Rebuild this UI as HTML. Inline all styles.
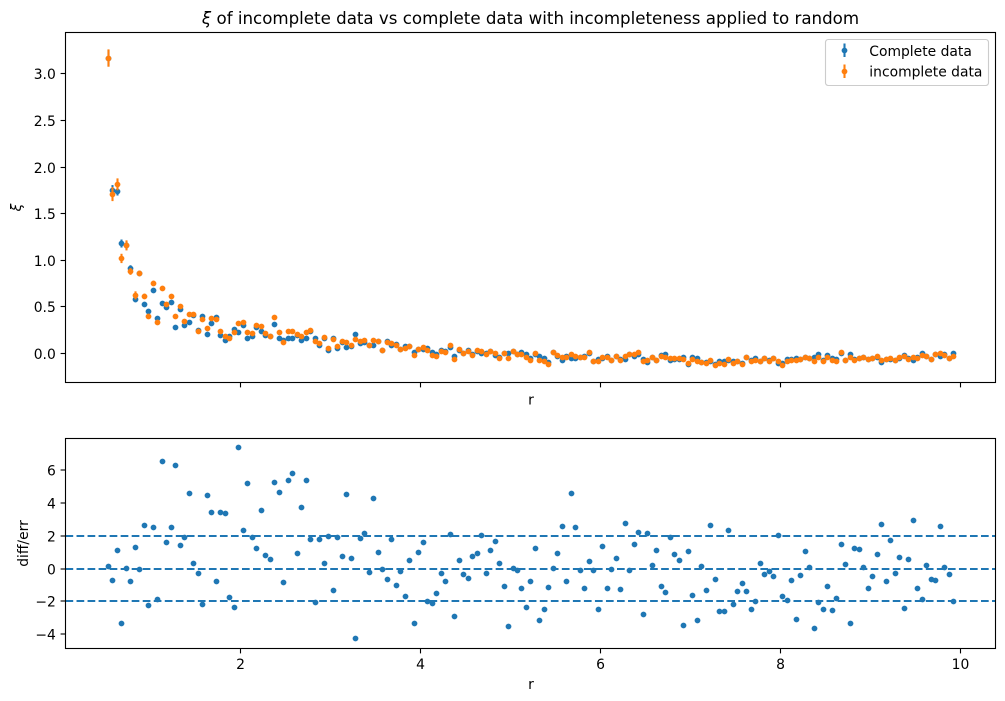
<!DOCTYPE html>
<html>
<head>
<meta charset="utf-8">
<title>Correlation comparison chart</title>
<style>
html,body{margin:0;padding:0;background:#fff;}
svg{display:block;}
text{font-family:"DejaVu Sans","Liberation Sans",sans-serif;fill:#000;}
</style>
</head>
<body>
<svg id="chart" xmlns="http://www.w3.org/2000/svg" width="1005" height="701" viewBox="0 0 1005 701">
  <rect x="0" y="0" width="1005" height="701" fill="#fff"/>
  <text x="530.5" y="24" font-size="16.67" text-anchor="middle"><tspan font-style="italic">ξ</tspan> of incomplete data vs complete data with incompleteness applied to random</text>
  <g id="top-marks"></g>
  <g id="bottom-marks"></g>
  <g id="axes-ticks"></g>
  <rect x="65.5" y="32.5" width="930" height="350" fill="none" stroke="#000" stroke-width="1.11"/>
  <rect x="65.5" y="438.5" width="930" height="210" fill="none" stroke="#000" stroke-width="1.11"/>
  <text x="531" y="404.5" font-size="13.89" text-anchor="middle">r</text>
  <text x="531" y="689" font-size="13.89" text-anchor="middle">r</text>
  <text transform="translate(21,207.5) rotate(-90)" font-size="13.89" font-style="italic" text-anchor="middle">ξ</text>
  <text transform="translate(28,543.5) rotate(-90)" font-size="13.89" text-anchor="middle">diff/err</text>
  <g>
    <rect x="825.5" y="39.5" width="163" height="46" rx="2.8" ry="2.8" fill="#fff" fill-opacity="0.8" stroke="#ccc" stroke-width="1.11"/>
    <g>
      <line x1="844.5" x2="844.5" y1="43.5" y2="57" stroke="#1f77b4" stroke-width="2.08"/>
      <circle cx="844.5" cy="50.5" r="2.9" fill="#1f77b4"/>
      <text x="869.3" y="56" font-size="13.89">Complete data</text>
    </g>
    <g>
      <line x1="844.5" x2="844.5" y1="64.5" y2="78" stroke="#ff7f0e" stroke-width="2.08"/>
      <circle cx="844.5" cy="71.5" r="2.9" fill="#ff7f0e"/>
      <text x="869.3" y="76.7" font-size="13.89">incomplete data</text>
    </g>
  </g>
</svg>
<script>
const rValues = [
0.525,0.575,0.625,0.675,0.725,0.775,0.825,0.875,0.925,0.975,
1.025,1.075,1.125,1.175,1.225,1.275,1.325,1.375,1.425,1.475,
1.525,1.575,1.625,1.675,1.725,1.775,1.825,1.875,1.925,1.975,
2.025,2.075,2.125,2.175,2.225,2.275,2.325,2.375,2.425,2.475,
2.525,2.575,2.625,2.675,2.725,2.775,2.825,2.875,2.925,2.975,
3.025,3.075,3.125,3.175,3.225,3.275,3.325,3.375,3.425,3.475,
3.525,3.575,3.625,3.675,3.725,3.775,3.825,3.875,3.925,3.975,
4.025,4.075,4.125,4.175,4.225,4.275,4.325,4.375,4.425,4.475,
4.525,4.575,4.625,4.675,4.725,4.775,4.825,4.875,4.925,4.975,
5.025,5.075,5.125,5.175,5.225,5.275,5.325,5.375,5.425,5.475,
5.525,5.575,5.625,5.675,5.725,5.775,5.825,5.875,5.925,5.975,
6.025,6.075,6.125,6.175,6.225,6.275,6.325,6.375,6.425,6.475,
6.525,6.575,6.625,6.675,6.725,6.775,6.825,6.875,6.925,6.975,
7.025,7.075,7.125,7.175,7.225,7.275,7.325,7.375,7.425,7.475,
7.525,7.575,7.625,7.675,7.725,7.775,7.825,7.875,7.925,7.975,
8.025,8.075,8.125,8.175,8.225,8.275,8.325,8.375,8.425,8.475,
8.525,8.575,8.625,8.675,8.725,8.775,8.825,8.875,8.925,8.975,
9.025,9.075,9.125,9.175,9.225,9.275,9.325,9.375,9.425,9.475,
9.525,9.575,9.625,9.675,9.725,9.775,9.825,9.875,9.925];

const completeXi = [
3.17,1.75,1.74,1.18,1.16,.917,.58,.86,.527,.452,.678,.377,.538,.495,.549,.281,.474,.302,.334,.41,.25,.399,.206,.324,.388,.195,.141,.184,.259,.227,.302,.163,.184,.281,.238,.195,.184,.313,.163,.14,.163,.163,.195,.141,
.163,.234,.163,.087,.165,.034,.156,.052,.12,.066,.08,.206,.109,.12,.09,.088,.125,.034,.125,.088,.098,.046,.077,.07,.012,.04,.045,.055,.01,-.01,.03,.02,.066,-.03,.03,.005,.034,-.016,.025,.002,-.005,.018,-.02,-.045,.003,.002,.022,-.008,
.012,-.009,-.055,-.015,-.034,-.052,-.10,.012,-.03,-.073,-.03,-.055,-.059,-.04,-.03,.005,-.087,-.063,-.05,-.035,-.073,-.035,-.06,-.063,-.016,-.03,-.015,-.063,-.095,-.045,-.08,-.02,-.016,-.073,-.065,-.063,-.045,-.123,-.038,-.052,-.093,-.10,-.091,-.115,-.084,-.09,-.07,-.084,-.084,-.11,-.045,
-.07,-.055,-.09,-.05,-.08,-.05,-.102,-.105,-.063,-.066,-.052,-.06,-.045,-.055,-.041,-.016,-.07,-.023,-.055,-.063,-.005,-.07,-.009,-.063,-.059,-.045,-.06,-.05,-.04,-.095,-.06,-.06,-.07,-.05,-.02,-.052,-.077,-.04,.002,-.035,-.06,-.01,-.034,-.016,-.05,-.005];

const incompleteXi = [
3.17,1.71,1.815,1.02,1.16,.88,.624,.86,.613,.399,.753,.334,.699,.528,.613,.399,.503,.345,.42,.42,.241,.367,.27,.377,.37,.238,.184,.163,.227,.324,.334,.227,.216,.302,.288,.216,.184,.388,.227,.12,.238,.238,.202,.184,
.227,.245,.13,.109,.17,.052,.152,.073,.127,.12,.088,.152,.127,.138,.088,.138,.127,.034,.12,.109,.091,.045,.055,.077,-.02,.041,.066,.034,-.02,-.027,.023,.016,.084,-.063,.041,.002,.02,-.02,.034,.023,-.009,.023,-.002,-.052,.002,-.052,.023,-.009,
-.009,-.045,-.073,-.002,-.073,-.084,-.116,.012,-.023,-.041,-.038,-.009,-.03,-.041,-.038,.012,-.088,-.088,-.045,-.045,-.073,-.03,-.073,-.03,-.016,-.009,.012,-.084,-.08,-.041,-.08,-.027,-.038,-.052,-.052,-.052,-.066,-.105,-.063,-.084,-.095,-.105,-.073,-.127,-.105,-.116,-.063,-.105,-.088,-.116,-.048,
-.084,-.07,-.088,-.052,-.084,-.052,-.088,-.127,-.088,-.073,-.073,-.063,-.041,-.052,-.084,-.041,-.084,-.041,-.073,-.084,.012,-.077,-.041,-.07,-.052,-.041,-.063,-.052,-.034,-.077,-.063,-.055,-.077,-.041,-.034,-.063,-.045,-.052,-.02,-.03,-.063,-.016,.002,-.02,-.052,-.034];

const completeErr = [
.09,.057,.045,.043,.04,.03,.03,.028,.027,.027,.026,.025,.025,.025,.024,.024,.023,.023,.022,.022,
.021,.021,.021,.02,.02,.02,.02,.02,.02,.02,.019,.019,.019,.019,.019,.019,.018,.018,.018,.018,
.018,.018,.018,.018,.018,.018,.017,.017,.017,.017,.017,.017,.017,.017,.017,.017,.017,.016,.016,.016,
.016,.016,.016,.016,.016,.016,.016,.016,.016,.016,.016,.016,.016,.016,.015,.015,.015,.015,.015,.015,
.015,.015,.015,.015,.015,.015,.015,.015,.015,.015,.015,.015,.015,.015,.015,.015,.015,.015,.015,.015,
.015,.015,.015,.015,.015,.015,.015,.015,.015,.015,.014,.014,.014,.014,.014,.014,.014,.014,.014,.014,
.014,.014,.014,.014,.014,.014,.014,.014,.014,.014,.014,.014,.014,.014,.014,.014,.014,.014,.014,.014,
.014,.014,.014,.014,.014,.014,.014,.014,.014,.014,.014,.014,.014,.014,.014,.014,.014,.014,.014,.014,
.014,.014,.014,.014,.014,.014,.014,.014,.014,.014,.014,.014,.014,.014,.014,.014,.014,.014,.014,.014,
.014,.014,.014,.014,.014,.014,.014,.014,.014];

const incompleteErr = [
.093,.075,.064,.05,.054,.036,.043,.03,.029,.028,.028,.027,.027,.026,.026,.025,.025,.024,.024,.023,
.023,.022,.022,.022,.021,.021,.021,.021,.02,.02,.02,.02,.02,.02,.02,.019,.019,.019,.019,.019,
.019,.019,.019,.018,.018,.018,.018,.018,.018,.018,.018,.018,.017,.017,.017,.017,.017,.017,.017,.017,
.017,.017,.017,.017,.017,.017,.016,.016,.016,.016,.016,.016,.016,.016,.016,.016,.016,.016,.016,.016,
.016,.016,.016,.016,.016,.016,.016,.016,.016,.016,.016,.016,.016,.016,.016,.016,.015,.015,.015,.015,
.015,.015,.015,.015,.015,.015,.015,.015,.015,.015,.015,.015,.015,.015,.015,.015,.015,.015,.015,.015,
.015,.015,.015,.015,.015,.015,.015,.015,.015,.015,.015,.015,.015,.015,.015,.015,.015,.015,.015,.015,
.015,.015,.015,.015,.015,.015,.015,.015,.015,.015,.015,.015,.015,.015,.015,.015,.015,.015,.015,.015,
.015,.015,.015,.015,.015,.015,.015,.015,.015,.015,.015,.015,.015,.015,.015,.015,.015,.015,.015,.015,
.015,.015,.015,.015,.015,.015,.015,.015,.015];

const diffOverErr = [
.16,-.69,1.14,-3.31,.04,-.75,1.32,-.02,2.66,-2.21,2.54,-1.85,6.55,1.62,2.54,6.31,1.44,1.93,4.60,.34,-.26,-2.15,4.48,3.45,-.75,3.45,3.39,-1.72,-2.33,7.40,2.35,5.21,1.93,1.26,3.57,.83,.59,5.27,4.67,-.81,5.40,5.82,.95,3.75,
5.40,1.81,-2.03,1.81,.34,1.99,-1.30,1.93,.77,4.54,.65,-4.22,1.87,2.17,-.20,4.30,1.01,-.02,-.63,1.81,-.99,-.14,-1.66,.53,-3.31,1.01,1.62,-1.97,-2.09,-1.48,-.26,-.75,2.11,-2.88,.53,-.32,-.57,.77,.95,2.05,-.26,1.14,1.68,.34,-1.05,-3.49,.04,-.08,
-1.18,-2.33,-.75,1.26,-3.12,-2.45,-1.12,.04,.95,2.60,-.75,4.60,2.54,-.08,-1.18,.47,-.08,-2.45,1.38,-1.18,-.02,.65,-1.24,2.78,-.08,1.50,2.23,-2.76,2.17,.22,1.14,-1.05,-1.42,1.93,.89,.53,-3.43,1.08,-1.60,-3.12,.16,-1.30,2.66,-.63,-2.58,-2.58,2.35,-2.15,-1.36,-.87,-1.36,
-2.45,-1.97,.34,-.32,-.14,-.45,2.05,-1.66,-1.91,-.69,-3.06,-.39,1.08,.10,-3.61,-2.03,-2.45,-1.05,-2.52,-1.79,1.50,.28,-3.31,1.26,1.20,.10,-1.18,-.45,.89,2.72,-.75,1.74,-.26,.71,-2.39,.59,2.96,-1.18,-1.85,.22,-.63,-.69,2.60,.10,-.32,-1.97];

const referenceLevels = [2, 0, -2];
const xTickValues = [2, 4, 6, 8, 10];
const xTickLabels = ["2", "4", "6", "8", "10"];
const topTickValues = [0, 0.5, 1, 1.5, 2, 2.5, 3];
const topTickLabels = ["0.0", "0.5", "1.0", "1.5", "2.0", "2.5", "3.0"];
const bottomTickValues = [-4, -2, 0, 2, 4, 6];
const bottomTickLabels = ["\u22124", "\u22122", "0", "2", "4", "6"];

const SVG_NS = "http://www.w3.org/2000/svg";
const BLUE = "#1f77b4";
const ORANGE = "#ff7f0e";
const DOT_RADIUS = 2.9;
const xAxis = v => 65.5 + (v - 0.055) * 89.94;
const yTop = v => 353.5 - 93.2 * v;
const yBottom = v => 568.5 - 16.43 * v;
const snapX = p => Math.round(p) + 0.5;
const snapY = p => Math.floor(p) + 0.5;

function make(tag, attrs, parent) {
  const node = document.createElementNS(SVG_NS, tag);
  for (const key in attrs) node.setAttribute(key, attrs[key]);
  parent.appendChild(node);
  return node;
}

const topMarks = document.getElementById("top-marks");
const bottomMarks = document.getElementById("bottom-marks");
const tickLayer = document.getElementById("axes-ticks");

// Top panel: complete series first, incomplete drawn over it.
rValues.forEach((r, i) => {
  const px = snapX(xAxis(r));
  const line = make("line", {x1: px, x2: px, y1: yTop(completeXi[i] + completeErr[i]), y2: yTop(completeXi[i] - completeErr[i]), stroke: BLUE, "stroke-width": 2.08}, topMarks);
  
  
  const dot = make("circle", {cx: px, cy: snapY(yTop(completeXi[i])), r: DOT_RADIUS, fill: BLUE}, topMarks);
  
  
});
rValues.forEach((r, i) => {
  const px = snapX(xAxis(r));
  const line = make("line", {x1: px, x2: px, y1: yTop(incompleteXi[i] + incompleteErr[i]), y2: yTop(incompleteXi[i] - incompleteErr[i]), stroke: ORANGE, "stroke-width": 2.08}, topMarks);
  
  
  const dot = make("circle", {cx: px, cy: snapY(yTop(incompleteXi[i])), r: DOT_RADIUS, fill: ORANGE}, topMarks);
  
  
});

// Bottom panel: residual points and dashed reference lines.
rValues.forEach((r, i) => {
  const dot = make("circle", {cx: snapX(xAxis(r)), cy: snapY(yBottom(diffOverErr[i]) + 0.5), r: DOT_RADIUS, fill: BLUE}, bottomMarks);
  
  
});
referenceLevels.forEach(level => {
  const py = Math.round(yBottom(level));
  const line = make("line", {x1: 65.5, x2: 995.5, y1: py, y2: py, stroke: BLUE, "stroke-width": 2.08, "stroke-dasharray": "7.7 3.33"}, bottomMarks);
  
  
});

// Ticks
xTickValues.forEach((v, i) => {
  const px = snapX(xAxis(v));
  const t1 = make("line", {x1: px, x2: px, y1: 382.5, y2: 387.4, stroke: "#000", "stroke-width": 1.11}, tickLayer);
  
  
  const t2 = make("line", {x1: px, x2: px, y1: 648.5, y2: 653.4, stroke: "#000", "stroke-width": 1.11}, tickLayer);
  
  
  const label = make("text", {x: px, y: 669, "font-size": 13.89, "text-anchor": "middle"}, tickLayer);
  label.textContent = xTickLabels[i];
  
  
});
topTickValues.forEach((v, i) => {
  const py = snapY(yTop(v));
  const tick = make("line", {x1: 60.6, x2: 65.5, y1: py, y2: py, stroke: "#000", "stroke-width": 1.11}, tickLayer);
  
  
  const label = make("text", {x: 55.8, y: py + 5.3, "font-size": 13.89, "text-anchor": "end"}, tickLayer);
  label.textContent = topTickLabels[i];
  
  
});
bottomTickValues.forEach((v, i) => {
  const py = Math.round(yBottom(v));
  const tick = make("line", {x1: 60.6, x2: 65.5, y1: py, y2: py, stroke: "#000", "stroke-width": 1.11}, tickLayer);
  
  
  const label = make("text", {x: 55.8, y: py + 5.3, "font-size": 13.89, "text-anchor": "end"}, tickLayer);
  label.textContent = bottomTickLabels[i];
  
  
});
</script>
</body>
</html>
